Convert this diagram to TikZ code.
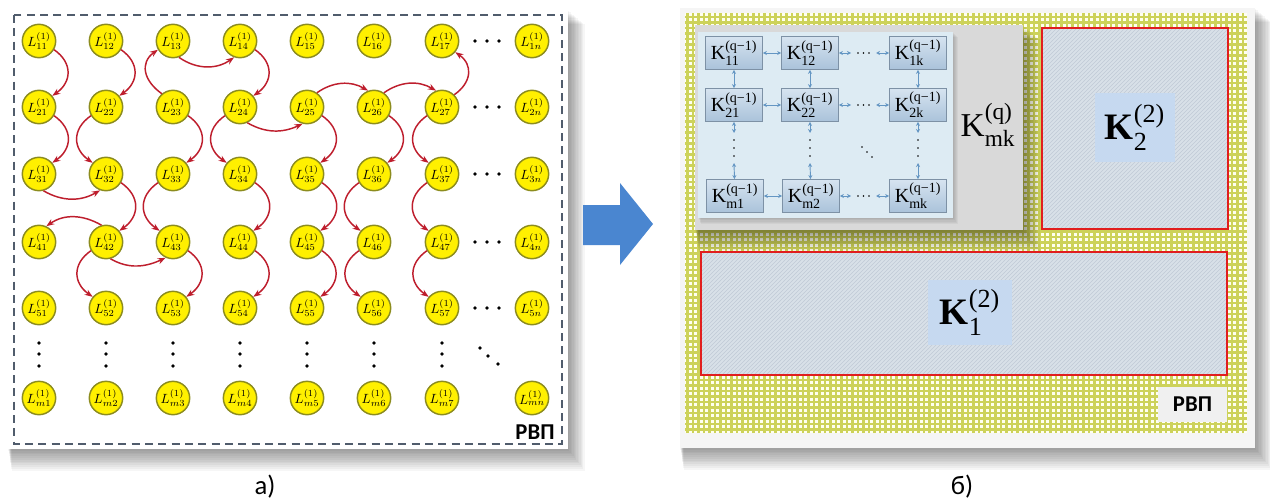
\documentclass[tikz,border=0pt]{standalone}
\usepackage{amsmath}
\usepackage{fontspec}
\setmainfont{Liberation Serif}
\newfontfamily\calib{Carlito}
\newfontfamily\tms{Liberation Serif}
\usetikzlibrary{arrows.meta,patterns}
\definecolor{lyel}{RGB}{255,240,0}
\definecolor{lyelb}{RGB}{140,140,30}
\definecolor{arrred}{RGB}{190,30,45}
\definecolor{dashc}{RGB}{80,92,108}
\definecolor{barrow}{RGB}{74,134,208}
\definecolor{gridbg}{RGB}{255,255,240}
\definecolor{gridln}{RGB}{205,210,90}
\definecolor{greyb}{RGB}{217,217,217}
\definecolor{lblue}{RGB}{221,235,243}
\definecolor{kboxt}{RGB}{214,228,240}
\definecolor{kboxb}{RGB}{170,194,218}
\definecolor{kboxd}{RGB}{125,145,165}
\definecolor{marrc}{RGB}{100,150,195}
\definecolor{redb}{RGB}{225,30,30}
\definecolor{hatchbg}{RGB}{216,224,232}
\definecolor{hatchln}{RGB}{192,202,214}
\definecolor{labbox}{RGB}{198,217,240}
\definecolor{rvpbox}{RGB}{240,240,240}
\newcommand{\softshadow}[4]{%
  \foreach \k in {1,...,12}{\fill[black,opacity=0.035] (#1+\k*0.3,#2-\k*1.2) rectangle (#3+\k*1.4,#4-\k*1.8);}}
\newcommand{\Kq}[1]{$\text{K}^{\text{(q−1)}}_{\text{#1}}$}
\begin{document}
\begin{tikzpicture}[x=0.75pt,y=0.75pt,
  lnode/.style={circle,fill=lyel,draw=lyelb,line width=1.1pt,minimum size=25pt,inner sep=0pt,font=\fontsize{10}{10}\selectfont},
  arr/.style={-{Stealth[length=6pt,width=4.5pt]},draw=arrred,line width=1.1pt},
  rvp/.style={font=\calib\bfseries\fontsize{17}{17}\selectfont,inner sep=0pt},
  subcap/.style={font=\calib\fontsize{20}{20}\selectfont,inner sep=0pt},
  kb/.style={draw=kboxd,line width=0.6pt,top color=kboxt,bottom color=kboxb,minimum width=42.75pt,minimum height=24.75pt,inner sep=0pt,font=\tms\fontsize{15}{15}\selectfont},
  marr/.style={{Stealth[length=3pt,width=3pt]}-{Stealth[length=3pt,width=3pt]},draw=marrc,line width=0.7pt},
  klab/.style={fill=labbox,inner sep=0pt,font=\tms\fontsize{28}{30}\selectfont}]
\useasboundingbox (0,0) rectangle (1270,501);
\fill[white] (0,0) rectangle (1270,501);
% ---------- left card ----------
\softshadow{8}{491}{568}{52}
\fill[white] (8,491) rectangle (568,52);
\draw[dashc,line width=1.1pt,dash pattern=on 6pt off 4pt] (14,486) rectangle (562,57);
\foreach \r/\yy in {1/460,2/394,3/327,4/259,5/193}{
  \foreach \c/\xx in {1/39,2/106,3/173,4/240,5/307,6/374,7/442}{
    \node[lnode] (L\r\c) at (\xx,\yy) {$L^{(1)}_{\r\c}$};}
  \node[lnode] (L\r n) at (532,\yy) {$L^{(1)}_{\r n}$};
  \foreach \dx in {475,487,499} \fill (\dx,\yy) circle[radius=1.9];
}
\foreach \c/\xx in {1/39,2/106,3/173,4/240,5/307,6/374,7/442}{
  \node[lnode] (Lm\c) at (\xx,103) {$L^{(1)}_{m\c}$};
  \foreach \dy in {158,147,135} \fill (\xx,\dy) circle[radius=1.9];
}
\node[lnode] (Lmn) at (532,103) {$L^{(1)}_{mn}$};
\foreach \dx/\dy in {480/153,488/145,498/137} \fill (\dx,\dy) circle[radius=1.9];
% down, bulge right
\foreach \a/\b in {L11/L21,L21/L31,L12/L22,L14/L24,L23/L33,L32/L42,L34/L44,L43/L53,L44/L54,L25/L35,L26/L36,L35/L45,L45/L55}
  \draw[arr] (\a.-30) to[out=-35,in=35,looseness=1.3] (\b.40);
% down, bulge left
\foreach \a/\b in {L22/L32,L24/L34,L33/L43,L42/L52,L27/L37,L36/L46,L37/L47,L46/L56,L47/L57}
  \draw[arr] (\a.-150) to[out=-145,in=145,looseness=1.3] (\b.140);
\draw[arr] (L23.130) to[out=145,in=-145,looseness=1.3] (L13.-150);
\draw[arr] (L27.45) to[out=35,in=-35,looseness=1.3] (L17.-40);
\draw[arr] (L13.-70) to[out=-35,in=-145] (L14.-110);
\draw[arr] (L24.-65) to[out=-30,in=-155] (L25.-105);
\draw[arr] (L31.-75) to[out=-30,in=-150] (L32.-110);
\draw[arr] (L42.-75) to[out=-30,in=-155] (L43.-115);
\draw[arr] (L25.55) to[out=35,in=150] (L26.110);
\draw[arr] (L26.55) to[out=35,in=150] (L27.110);
\draw[arr] (L42.105) to[out=150,in=35] (L41.65);
\node[rvp] (rvpa) at (535,69) {РВП};
\node[subcap] (capa) at (265,14) {а)};
% ---------- block arrow ----------
\fill[barrow] (583,296) -- (620,296) -- (620,318) -- (653,277) -- (620,236) -- (620,256) -- (583,256) -- cycle;
% ---------- right card ----------
\softshadow{680}{493}{1255}{53}
\fill[white!96!black] (680,493) rectangle (1255,53);
\begin{scope}
  \clip (685,68) rectangle (1247,488);
  \fill[gridbg] (685,68) rectangle (1247,488);
  \draw[gridln,line width=1.8pt] (685,68) grid[step=5.5] (1247,488);
\end{scope}
% grey box
\softshadow{695}{476}{1023}{271}
\fill[greyb] (695,476) rectangle (1023,271);
\node[font=\tms\fontsize{25}{27}\selectfont,inner sep=0pt] (kq) at (988,376) {$\text{K}^{\text{(q)}}_{\text{mk}}$};
% light blue box
\foreach \k in {1,...,5}{\fill[black,opacity=0.04] (698+\k*0.5,469-\k) rectangle (953+\k,283-\k*1.2);}
\fill[lblue] (698,469) rectangle (953,283);
\node[kb] (K11) at (734,448) {\Kq{11}};
\node[kb] (K12) at (810,448) {\Kq{12}};
\node[kb] (K1k) at (918,448) {\Kq{1k}};
\node[kb] (K21) at (734,396) {\Kq{21}};
\node[kb] (K22) at (810,396) {\Kq{22}};
\node[kb] (K2k) at (918,396) {\Kq{2k}};
\node[kb] (Km1) at (735,305) {\Kq{m1}};
\node[kb] (Km2) at (811,305) {\Kq{m2}};
\node[kb] (Kmk) at (918,305) {\Kq{mk}};
\draw[marr] (K11) -- (K12);
\draw[marr] (K21) -- (K22);
\draw[marr] (Km1) -- (Km2);
\foreach \r/\yy in {1/448,2/396,m/305}{
  \coordinate (h\r a) at (851,\yy);
  \coordinate (h\r b) at (876,\yy);
  \foreach \dx in {858,863.5,869} \fill (\dx,\yy) circle[radius=0.9];
}
\draw[marr] (K12) -- (h1a); \draw[marr] (h1b) -- (K1k);
\draw[marr] (K22) -- (h2a); \draw[marr] (h2b) -- (K2k);
\draw[marr] (Km2) -- (hma); \draw[marr] (hmb) -- (Kmk);
\draw[marr] (K11) -- (K21);
\draw[marr] (K12) -- (K22);
\draw[marr] (K1k) -- (K2k);
\foreach \c/\xx in {1/734,2/810,k/918}{
  \coordinate (v\c a) at (\xx,368);
  \coordinate (v\c b) at (\xx,338);
  \foreach \dy in {361,353,345} \fill (\xx,\dy) circle[radius=0.9];
}
\draw[marr] (K21) -- (v1a); \draw[marr] (v1b) -- (Km1);
\draw[marr] (K22) -- (v2a); \draw[marr] (v2b) -- (Km2);
\draw[marr] (K2k) -- (vka); \draw[marr] (vkb) -- (Kmk);
\foreach \dx/\dy in {862/354,867/349,872/344} \fill (\dx,\dy) circle[radius=0.9];
% K2 box
\fill[hatchbg] (1042,473) rectangle (1228,272);
\fill[pattern=north east lines,pattern color=hatchln] (1042,473) rectangle (1228,272);
\draw[redb,line width=1.5pt] (1042,473) rectangle (1228,272);
\node[klab,minimum width=60pt,minimum height=52pt] (k2) at (1135,373.5) {$\text{\bfseries K}^{\text{(2)}}_{\text{2}}$};
% K1 box
\fill[hatchbg] (701,249) rectangle (1227,126);
\fill[pattern=north east lines,pattern color=hatchln] (701,249) rectangle (1227,126);
\draw[redb,line width=1.5pt] (701,249) rectangle (1227,126);
\node[klab,minimum width=63pt,minimum height=49pt] (k1) at (970,188.5) {$\text{\bfseries K}^{\text{(2)}}_{\text{1}}$};
% RVP
\fill[rvpbox] (1158,114) rectangle (1227,79);
\node[rvp] (rvpb) at (1192.5,96.5) {РВП};
\node[subcap] (capb) at (962,14) {б)};
\end{tikzpicture}
\end{document}
